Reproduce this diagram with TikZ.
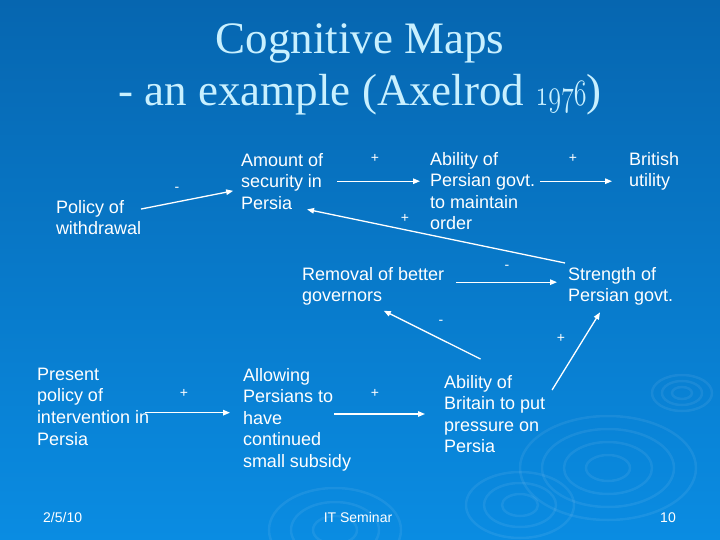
\documentclass[tikz,border=0pt]{standalone}
\usepackage{graphicx}
\usepackage{fontspec}
\setsansfont{Liberation Sans}
\newfontfamily\titlefont{Liberation Serif}
\usetikzlibrary{arrows.meta}

\definecolor{slidetop}{RGB}{6,102,176}
\definecolor{slidebottom}{RGB}{10,140,226}
\definecolor{titlecyan}{RGB}{200,240,255}

\tikzset{
	concept/.style={anchor=north west, inner sep=0pt, outer sep=0pt, align=left, text=white, font=\sffamily\fontsize{18}{21.6}\selectfont},
	sign/.style={inner sep=0pt, text=white, font=\sffamily\fontsize{14}{16}\selectfont},
	link/.style={white, line width=1.3pt, -{Triangle[length=7pt,width=5.5pt]}},
	ripple/.style={white, opacity=0.07, line width=2.5pt},
	footer/.style={anchor=base, inner sep=0pt, text=white, font=\sffamily\fontsize{14}{16}\selectfont}
}

\begin{document}
\begin{tikzpicture}[x=1pt,y=-1pt]
	\shade[top color=slidetop, middle color=slidetop, bottom color=slidebottom] (0,0) rectangle (720,540);
	\useasboundingbox (0,0) rectangle (720,540);
	
	% ripples of the slide template
	\begin{scope}
		\clip (0,0) rectangle (720,540);
		\foreach \r in {1,2,3}
			\draw[ripple] (682,393) ellipse ({10*\r} and {6*\r});
		\foreach \r in {1,...,4}
			\draw[ripple] (608,468) ellipse ({22*\r} and {13*\r});
		\foreach \r in {1,2,3}
			\draw[ripple] (335,530) ellipse ({22*\r} and {14*\r});
		\foreach \r in {1,2,3}
			\draw[ripple] (520,505) ellipse ({18*\r} and {11*\r});
	\end{scope}
	
	\node[anchor=north, align=center, inner sep=0pt, text=titlecyan, font=\titlefont\fontsize{45}{52}\selectfont] (title) at (360,24) {Cognitive Maps\\- an example (Axelrod \resizebox{51pt}{24pt}{\usefont{OML}{lmm}{b}{it}1976})};
	
	\node[concept] (withdraw) at (56,200) {Policy of\\withdrawal};
	\node[concept] (amount) at (241,153) {Amount of\\security in\\Persia};
	\node[concept] (abilitypg) at (430,152) {Ability of\\Persian govt.\\to maintain\\order};
	\node[concept] (british) at (629,152) {British\\utility};
	\node[concept] (removal) at (302,267) {Removal of better\\governors};
	\node[concept] (strength) at (568,267) {Strength of\\Persian govt.};
	\node[concept] (present) at (37,368) {Present\\policy of\\intervention in\\Persia};
	\node[concept] (allowing) at (243,368) {Allowing\\Persians to\\have\\continued\\small subsidy};
	\node[concept] (britain) at (444,375) {Ability of\\Britain to put\\pressure on\\Persia};
	
	\draw[link, shorten >=8pt] (withdraw) -- (amount);
	\draw[link, shorten <=14pt, shorten >=10pt] (amount.east) -- (amount.east -| abilitypg.west);
	\draw[link, shorten <=5pt, shorten >=17pt] (abilitypg.east |- amount.east) -- (british.west |- amount.east);
	\draw[link] ([xshift=-3pt,yshift=4pt]strength.north west) -- ([xshift=-16pt]amount.south east);
	\draw[link, shorten <=12pt, shorten >=11pt] ([yshift=4pt]removal.east) -- ([yshift=4pt]strength.west);
	\draw[link, shorten >=12pt] ([xshift=-14pt,yshift=16pt]britain.north) -- (removal.south);
	\draw[link] ([xshift=7pt,yshift=-15pt]britain.north east) -- ([xshift=32pt,yshift=-7pt]strength.south west);
	\draw[link, shorten >=13pt] ([xshift=-4pt,yshift=-6pt]present.east) -- ([yshift=-6pt]present.east -| allowing.west);
	\draw[link, shorten >=19pt] ([xshift=-17pt]allowing.east |- britain.west) -- (britain.west);
	
	\node[sign] (s1) at (177,189) {-};
	\node[sign] (s2) at (375,158) {+};
	\node[sign] (s3) at (573,158) {+};
	\node[sign] (s4) at (405,218) {+};
	\node[sign] (s5) at (507,267) {-};
	\node[sign] (s6) at (441,322) {-};
	\node[sign] (s7) at (561,338) {+};
	\node[sign] (s8) at (184,393) {+};
	\node[sign] (s9) at (375,393) {+};
	
	\node[footer, anchor=base west] (date) at (43,522) {2/5/10};
	\node[footer] (seminar) at (358,522) {IT Seminar};
	\node[footer, anchor=base east] (page) at (676,522) {10};
\end{tikzpicture}
\end{document}
